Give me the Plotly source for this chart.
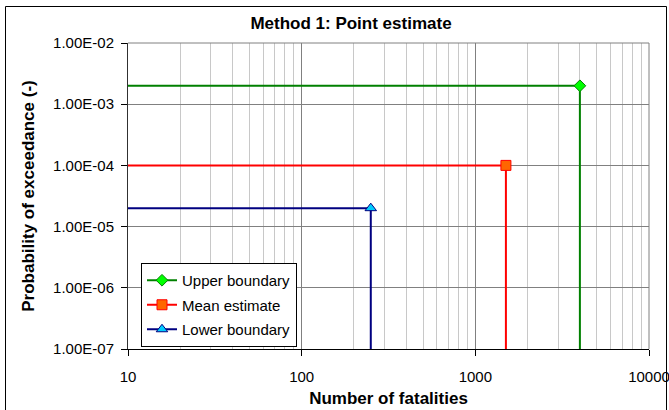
import plotly.graph_objects as go

# ---- data ----
series_names = ["Upper boundary", "Mean estimate", "Lower boundary"]
fatalities = [4000, 1500, 250]
probabilities = [2e-3, 1e-4, 2e-5]
x_start = 10
y_floor = 1e-7

line_colors = ["#008000", "#FF0000", "#000080"]
marker_fills = ["#00FF00", "#FF6600", "#00CCFF"]
marker_symbols = ["diamond", "square", "triangle-up"]
marker_sizes = [9, 10, 10]

y_tickvals = [1e-7, 1e-6, 1e-5, 1e-4, 1e-3, 1e-2]
y_ticktext = ["1.00E-07", "1.00E-06", "1.00E-05", "1.00E-04", "1.00E-03", "1.00E-02"]
x_tickvals = [10, 100, 1000, 10000]
x_ticktext = ["10", "100", "1000", "10000"]

FONT = "Liberation Sans, Arial, sans-serif"

fig = go.Figure()
for name, n, p, lc, mf, ms, sz in zip(series_names, fatalities, probabilities,
                                       line_colors, marker_fills, marker_symbols, marker_sizes):
    # step line
    fig.add_trace(go.Scatter(
        x=[x_start, n, n], y=[p, p, y_floor], mode="lines",
        line=dict(color=lc, width=2), showlegend=False, hoverinfo="skip"))
    # point marker
    fig.add_trace(go.Scatter(
        x=[n], y=[p], mode="markers", showlegend=False,
        marker=dict(symbol=ms, size=sz, color=mf, line=dict(color=lc, width=1))))
    # legend entry
    fig.add_trace(go.Scatter(
        x=[None], y=[None], mode="lines+markers", name=name, legendgroup=name,
        line=dict(color=lc, width=2),
        marker=dict(symbol=ms, size=sz, color=mf, line=dict(color=lc, width=1))))

fig.update_layout(
    width=669, height=410,
    margin=dict(l=128, r=20, t=43, b=61),
    paper_bgcolor="white", plot_bgcolor="white",
    font=dict(family=FONT, size=15, color="black"),
    title=dict(text="<b>Method 1: Point estimate</b>", font=dict(size=17, family=FONT),
               x=351 / 669, xref="container", xanchor="center",
               y=1 - 23 / 410, yref="container", yanchor="middle"),
    showlegend=True,
    legend=dict(x=(141 - 128) / 521, y=(349 - 263) / 306, xanchor="left", yanchor="top",
                bgcolor="white", bordercolor="black", borderwidth=1,
                font=dict(size=15, family=FONT), tracegroupgap=2,
                itemwidth=30),
    xaxis=dict(type="log", range=[1, 4], tickvals=x_tickvals, ticktext=x_ticktext,
               showgrid=True, gridcolor="#808080", gridwidth=1,
               minor=dict(dtick="D1", showgrid=True, gridcolor="#c8c8c8", ticks=""),
               showline=True, linecolor="black", linewidth=1,
               ticks="outside", ticklen=6, tickcolor="black",
               ticklabelstandoff=8, ticklabeloverflow="allow", automargin=False,
               title=dict(text="<b>Number of fatalities</b>", font=dict(size=17, family=FONT),
                          standoff=8),
               zeroline=False),
    yaxis=dict(type="log", range=[-7, -2], tickvals=y_tickvals, ticktext=y_ticktext,
               showgrid=True, gridcolor="#808080", gridwidth=1,
               showline=True, linecolor="#303030", linewidth=1,
               ticks="outside", ticklen=6, tickcolor="black",
               ticklabelstandoff=4, automargin=False,
               title=dict(text="<b>Probability of exceedance (-)</b>", font=dict(size=17, family=FONT),
                          standoff=14),
               zeroline=False),
    shapes=[
        # top and right plot-area border
        dict(type="path", xref="paper", yref="paper", path="M 0,1 L 1,1 L 1,0",
             line=dict(color="#808080", width=1), layer="above"),
        # outer chart-area border
        dict(type="rect", xref="paper", yref="paper",
             x0=(5.5 - 128) / 521, x1=(666.5 - 128) / 521,
             y0=(349 - 415) / 306, y1=(349 - 6.5) / 306,
             line=dict(color="black", width=1), fillcolor="rgba(0,0,0,0)", layer="above"),
    ],
)

fig.write_html("out.html")
